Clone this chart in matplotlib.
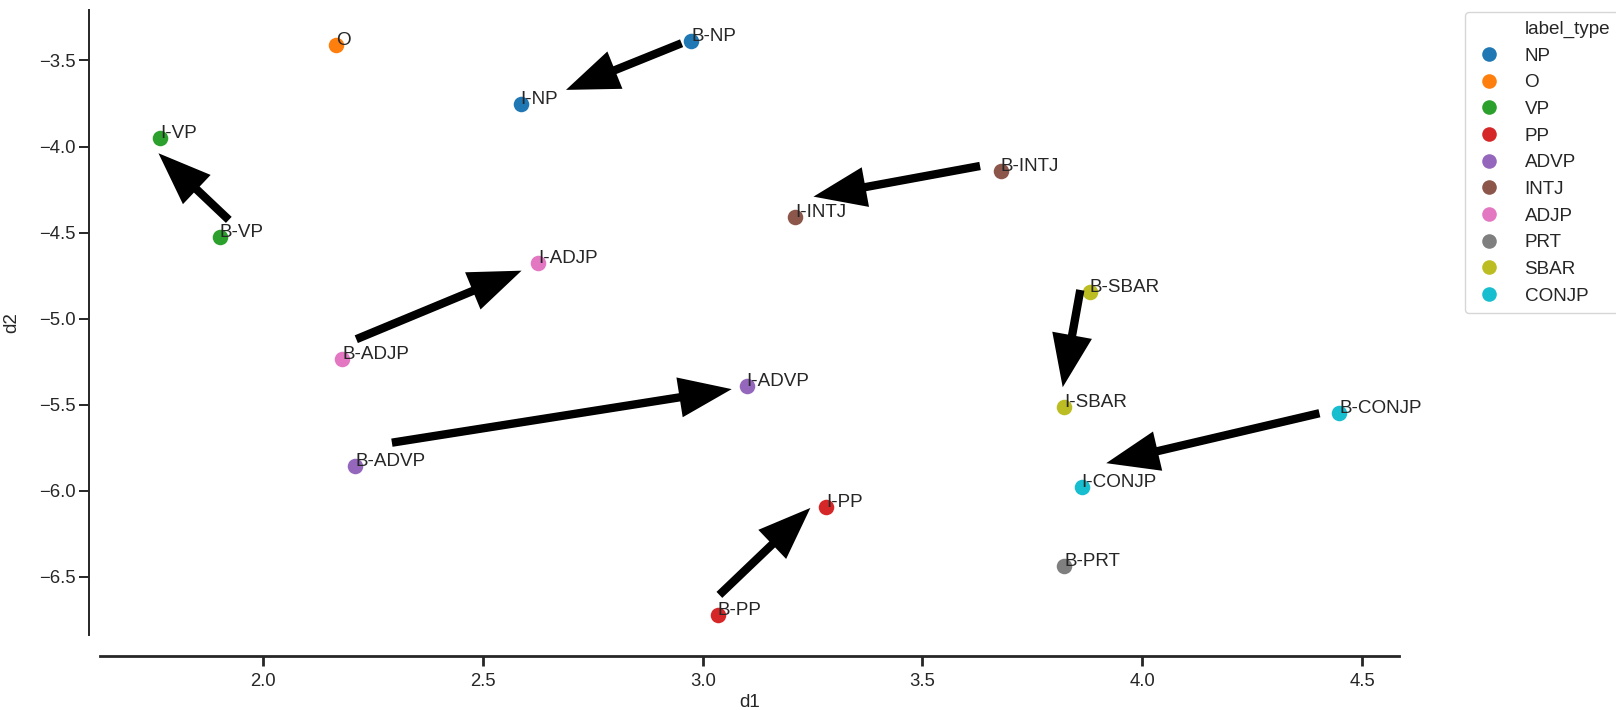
import matplotlib
matplotlib.use("Agg")
import matplotlib.pyplot as plt
from matplotlib.lines import Line2D

plt.rcParams['font.family'] = ['Liberation Sans', 'DejaVu Sans']

# label embedding points (d1, d2)
labels = ['O', 'B-NP', 'I-NP', 'I-VP', 'B-VP', 'B-INTJ', 'I-INTJ', 'I-ADJP', 'B-ADJP',
          'B-SBAR', 'I-SBAR', 'I-ADVP', 'B-ADVP', 'B-CONJP', 'I-CONJP', 'I-PP', 'B-PRT', 'B-PP']
d1 = [2.166, 2.974, 2.586, 1.766, 1.901, 3.678, 3.211, 2.626, 2.180,
      3.880, 3.822, 3.100, 2.210, 4.448, 3.862, 3.281, 3.823, 3.034]
d2 = [-3.410, -3.385, -3.753, -3.952, -4.527, -4.142, -4.411, -4.674, -5.232,
      -4.846, -5.514, -5.389, -5.858, -5.549, -5.975, -6.091, -6.434, -6.720]
label_type = ['O', 'NP', 'NP', 'VP', 'VP', 'INTJ', 'INTJ', 'ADJP', 'ADJP',
              'SBAR', 'SBAR', 'ADVP', 'ADVP', 'CONJP', 'CONJP', 'PP', 'PRT', 'PP']
type_order = ['NP', 'O', 'VP', 'PP', 'ADVP', 'INTJ', 'ADJP', 'PRT', 'SBAR', 'CONJP']

# arrows B-X -> I-X (tail and head, in data units)
arrow_tail_d1 = [2.952, 1.922, 3.631, 2.212, 3.859, 2.293, 4.403, 3.038]
arrow_tail_d2 = [-3.400, -4.426, -4.113, -5.119, -4.833, -5.720, -5.549, -6.604]
arrow_head_d1 = [2.689, 1.762, 3.252, 2.588, 3.819, 3.066, 3.918, 3.245]
arrow_head_d2 = [-3.671, -4.039, -4.291, -4.721, -5.398, -5.409, -5.839, -6.099]

palette = plt.get_cmap('tab10').colors
colors = {t: palette[i] for i, t in enumerate(type_order)}
text_col = '#262626'

fig = plt.figure(figsize=(16.16, 7.10), dpi=100)
ax = fig.add_axes([100 / 1616, 75 / 710, 1299 / 1616, 625 / 710])

for t in type_order:
    xs = [x for x, lt in zip(d1, label_type) if lt == t]
    ys = [y for y, lt in zip(d2, label_type) if lt == t]
    ax.scatter(xs, ys, s=125, color=colors[t], linewidths=0, zorder=2)

for lab, x, y in zip(labels, d1, d2):
    ax.text(x, y, lab, fontsize=13.6, color=text_col, zorder=3)

for tx, ty, hx, hy in zip(arrow_tail_d1, arrow_tail_d2, arrow_head_d1, arrow_head_d2):
    ax.annotate('', xy=(hx, hy), xytext=(tx, ty),
                arrowprops=dict(facecolor='black', edgecolor='none',
                                width=6, headwidth=29, headlength=38, shrink=0),
                zorder=4)

ax.set_xlim(1.629, 4.584)
ax.set_ylim(-6.837, -3.207)
ax.set_xticks([2.0, 2.5, 3.0, 3.5, 4.0, 4.5])
ax.set_yticks([-3.5, -4.0, -4.5, -5.0, -5.5, -6.0, -6.5])

for s in ['top', 'right']:
    ax.spines[s].set_visible(False)
ax.spines['left'].set_position(('outward', 7.7))
ax.spines['bottom'].set_position(('outward', 15))
ax.spines['left'].set_linewidth(1.4)
ax.spines['bottom'].set_linewidth(2.0)
ax.spines['left'].set_color(text_col)
ax.spines['bottom'].set_color(text_col)
ax.tick_params(axis='y', length=7, width=1.4, labelsize=13.3, colors=text_col, pad=3)
ax.tick_params(axis='x', length=7, width=2.0, labelsize=13.3, colors=text_col, pad=5)

ax.set_xlabel('d1', fontsize=13.5, color=text_col, labelpad=3)
ax.set_ylabel('d2', fontsize=13.5, color=text_col, labelpad=13)

handles = [Line2D([], [], linestyle='none', marker='none')]
names = ['label_type']
for t in type_order:
    handles.append(Line2D([], [], linestyle='none', marker='o', markersize=10.5,
                          markerfacecolor=colors[t], markeredgewidth=0))
    names.append(t)
leg = fig.legend(handles, names, loc='upper left',
                 bbox_to_anchor=(1465 / 1616, 1 - 12 / 710),
                 fontsize=13.6, frameon=True, fancybox=True,
                 labelspacing=0.5, handletextpad=1.1, borderpad=0.45,
                 handlelength=1.6, borderaxespad=0)
leg.get_frame().set_edgecolor('#cccccc')
for txt in leg.get_texts():
    txt.set_color(text_col)

fig.savefig('out.png', dpi=100)
